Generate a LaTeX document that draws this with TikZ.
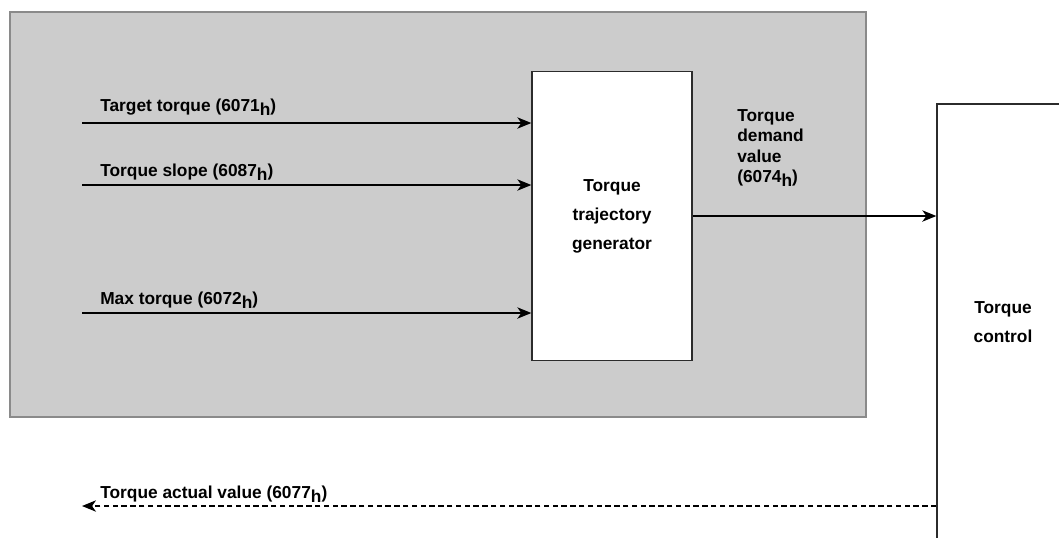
\documentclass[tikz,border=0pt]{standalone}
\usepackage{fontspec}
\setmainfont{Liberation Sans}
\usetikzlibrary{arrows.meta}

\definecolor{panelgray}{HTML}{CCCCCC}
\definecolor{panelline}{HTML}{8A8A8A}
\definecolor{boxline}{HTML}{2B2B2B}
% subscript h of the object indices
\newcommand{\hidx}{\raisebox{-0.45ex}{h}}

\begin{document}
\begin{tikzpicture}[x=0.75pt,y=-0.75pt,
  lbl/.style={anchor=base west, inner sep=0pt, font=\fontsize{13}{15}\bfseries},
  blk/.style={draw=boxline, line width=1pt, fill=white, align=center, inner sep=0pt,
    font=\fontsize{13}{21.75}\bfseries},
  sig/.style={line width=1pt, -{Stealth[length=10.5pt,width=8.5pt,inset=3pt]}}]
% Canvas
\clip (0,0) rectangle (1059,537);
\fill[white] (0,0) rectangle (1059,537);

% Grey panel
\draw[fill=panelgray, draw=panelline, line width=0.9pt] (10,12) rectangle (866,417);

% Blocks
\node[blk, minimum width=120pt, minimum height=216.75pt] (gen) at (612,216) {Torque\\trajectory\\generator};
\node[blk, minimum width=99pt, minimum height=327pt] (ctrl) at (1003,322) {Torque\\control};

% Inputs
\coordinate (in1) at (82,123);
\coordinate (in2) at (82,185);
\coordinate (in3) at (82,313);
\node[lbl] (l1) at (100,111) {Target torque (6071\hidx)};
\node[lbl] (l2) at (100,176) {Torque slope (6087\hidx)};
\node[lbl] (l3) at (100,304) {Max torque (6072\hidx)};
\draw[sig] (in1) -- (in1 -| gen.west);
\draw[sig] (in2) -- (in2 -| gen.west);
\draw[sig] (in3) -- (in3 -| gen.west);

% Demand value
\node[lbl, anchor=north west, align=left, font=\fontsize{13}{15.4}\bfseries] (ldem) at (737,109)
  {Torque\\demand\\value\\(6074\hidx)};
\draw[sig] (gen.east) -- (gen.east -| ctrl.west);

% Actual value (feedback)
\coordinate (fb) at (82,506);
\node[lbl] (lact) at (100,498) {Torque actual value (6077\hidx)};
\draw[sig, dash pattern=on 4pt off 2.6pt] (ctrl.west |- fb) -- (fb);
\end{tikzpicture}
\end{document}
